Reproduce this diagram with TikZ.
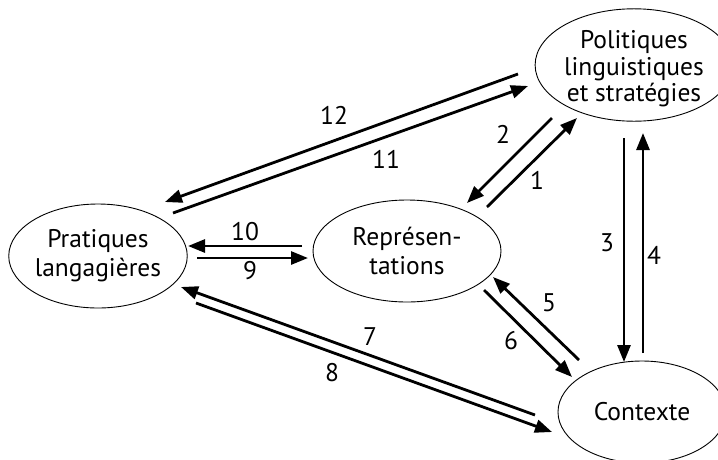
\documentclass[tikz,border=0pt]{standalone}
\usepackage{fontspec}
\setmainfont{PT Sans}
\usetikzlibrary{arrows.meta,shapes.geometric}
\tikzset{
  ell/.style={draw=black, line width=0.9pt, ellipse, inner sep=0pt, align=center,
    font=\fontsize{25.5}{29}\selectfont},
  arr/.style={line width=2.8pt, -{Triangle[length=17pt,width=13pt]}},
  num/.style={inner sep=0pt, font=\fontsize{25.5}{29}\selectfont}
}
\begin{document}
\begin{tikzpicture}[x=1pt,y=-1pt]
\useasboundingbox[fill=white] (0,0) rectangle (718,459);
% nodes
\node[ell, minimum width=174pt, minimum height=104pt] (pra) at (98,256) {Pratiques\\langagières};
\node[ell, minimum width=188pt, minimum height=102pt] (rep) at (407,251) {Représen-\\tations};
\node[ell, minimum width=166pt, minimum height=104pt, font=\fontsize{25.5}{26.5}\selectfont] (pol) at (634,65)
  {\raisebox{-5pt}[\height][\depth]{\begin{tabular}{@{}c@{}}Politiques\\linguistiques\\et stratégies\end{tabular}}};
\node[ell, minimum width=168pt, minimum height=102pt] (con) at (642,412) {Contexte};
% connector ends
\coordinate (t1) at (487,207); \coordinate (h1) at (577,118);
\coordinate (t2) at (552,118); \coordinate (h2) at (467,203);
\coordinate (t3) at (624,138); \coordinate (h3) at (624,362);
\coordinate (t4) at (643,353); \coordinate (h4) at (643,133);
\coordinate (t5) at (579,360); \coordinate (h5) at (493,277);
\coordinate (t6) at (484,290); \coordinate (h6) at (572,377);
\coordinate (t7) at (535,415); \coordinate (h7) at (181,287);
\coordinate (t8) at (196,303); \coordinate (h8) at (552,432);
\coordinate (t9) at (197,258); \coordinate (h9) at (308,258);
\coordinate (t10) at (302,246); \coordinate (h10) at (188,246);
\coordinate (t11) at (173,213); \coordinate (h11) at (528,86);
\coordinate (t12) at (518,74); \coordinate (h12) at (165,202);
% connectors
\foreach \i in {1,...,12} { \draw[arr] (t\i) -- (h\i); }
% labels
\node[num] (n1) at (537,180) {1};
\node[num] (n2) at (503,134) {2};
\node[num] (n3) at (607,243) {3};
\node[num] (n4) at (654,255) {4};
\node[num] (n5) at (549,303) {5};
\node[num] (n6) at (511,341) {6};
\node[num] (n7) at (370,337) {7};
\node[num] (n8) at (332,373) {8};
\node[num] (n9) at (250,271) {9};
\node[num] (n10) at (245,232) {10};
\node[num] (n11) at (386,159) {11};
\node[num] (n12) at (334,115) {12};
\end{tikzpicture}
\end{document}
